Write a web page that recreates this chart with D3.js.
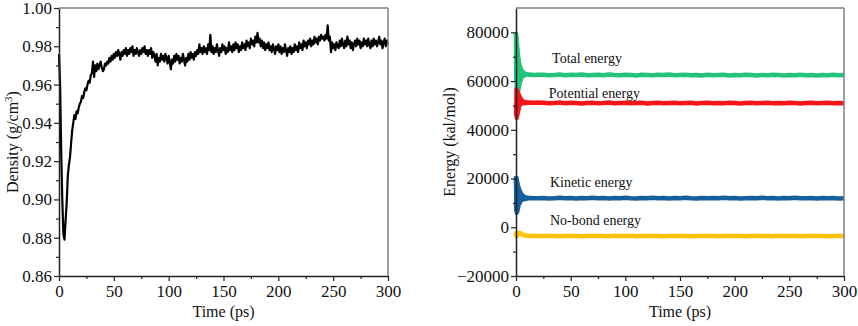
<!DOCTYPE html>
<html lang="en">
<head>
<meta charset="utf-8">
<title>Density and energy vs time</title>
<script src="https://cdn.jsdelivr.net/npm/d3@7"></script>
<style>
  body { margin: 0; background: #fff; }
  svg text { font-family: "Liberation Serif", "Times New Roman", serif; fill: #111; }
</style>
</head>
<body>
<script>
// Density (left panel), 1 ps steps from 0 to 300 ps
var densityValues = [
  0.976, 0.960, 0.925, 0.900, 0.882, 0.879, 0.889, 0.898, 0.912, 0.918,
  0.922, 0.929, 0.936, 0.940, 0.944, 0.942, 0.946, 0.945, 0.948, 0.950,
  0.951, 0.954, 0.953, 0.956, 0.958, 0.957, 0.960, 0.962, 0.961, 0.965,
  0.966, 0.972, 0.964, 0.970, 0.967, 0.971, 0.968, 0.970, 0.972, 0.969,
  0.967, 0.968, 0.971, 0.970, 0.972, 0.971, 0.974, 0.972, 0.975, 0.973,
  0.976, 0.974, 0.977, 0.975, 0.978, 0.976, 0.973, 0.977, 0.975, 0.978,
  0.976, 0.979, 0.975, 0.978, 0.976, 0.979, 0.977, 0.980, 0.975, 0.978,
  0.976, 0.979, 0.977, 0.975, 0.978, 0.976, 0.979, 0.977, 0.980, 0.976,
  0.978, 0.975, 0.978, 0.976, 0.979, 0.974, 0.977, 0.975, 0.972, 0.976,
  0.970, 0.974, 0.972, 0.976, 0.973, 0.975, 0.972, 0.976, 0.974, 0.971,
  0.975, 0.972, 0.968, 0.973, 0.971, 0.975, 0.972, 0.976, 0.973, 0.975,
  0.971, 0.974, 0.972, 0.976, 0.973, 0.970, 0.974, 0.972, 0.976, 0.973,
  0.977, 0.974, 0.976, 0.973, 0.977, 0.975, 0.978, 0.976, 0.981, 0.977,
  0.979, 0.976, 0.980, 0.977, 0.979, 0.976, 0.981, 0.978, 0.986, 0.977,
  0.980, 0.976, 0.979, 0.977, 0.981, 0.978, 0.975, 0.979, 0.977, 0.981,
  0.978, 0.980, 0.976, 0.979, 0.977, 0.982, 0.978, 0.980, 0.977, 0.981,
  0.978, 0.982, 0.979, 0.981, 0.977, 0.980, 0.978, 0.982, 0.979, 0.981,
  0.978, 0.983, 0.980, 0.982, 0.979, 0.984, 0.981, 0.983, 0.980, 0.985,
  0.982, 0.987, 0.982, 0.984, 0.980, 0.983, 0.979, 0.982, 0.978, 0.981,
  0.979, 0.982, 0.978, 0.980, 0.977, 0.981, 0.979, 0.976, 0.980, 0.978,
  0.981, 0.977, 0.980, 0.976, 0.979, 0.977, 0.981, 0.978, 0.975, 0.979,
  0.977, 0.980, 0.976, 0.979, 0.977, 0.981, 0.978, 0.980, 0.977, 0.982,
  0.979, 0.981, 0.978, 0.983, 0.980, 0.982, 0.979, 0.983, 0.981, 0.984,
  0.980, 0.983, 0.981, 0.985, 0.982, 0.984, 0.981, 0.985, 0.983, 0.986,
  0.984, 0.985, 0.983, 0.986, 0.984, 0.991, 0.983, 0.985, 0.977, 0.982,
  0.979, 0.981, 0.978, 0.982, 0.980, 0.979, 0.983, 0.980, 0.984, 0.981,
  0.979, 0.983, 0.980, 0.985, 0.981, 0.983, 0.979, 0.982, 0.978, 0.981,
  0.983, 0.980, 0.984, 0.981, 0.983, 0.979, 0.982, 0.980, 0.984, 0.981,
  0.983, 0.980, 0.984, 0.981, 0.979, 0.983, 0.980, 0.984, 0.981, 0.983,
  0.980, 0.982, 0.985, 0.981, 0.983, 0.979, 0.982, 0.984, 0.980, 0.983,
  0.981
];
var densityTimes = densityValues.map(function(d, i) { return i; });

// Energy (right panel) sample times, ps
var energyTimes = [
  0, 0.25, 0.5, 0.75, 1, 1.25, 1.5, 1.75, 2, 2.25, 2.5, 2.75, 3, 3.25, 3.5, 3.75,
  4, 4.25, 4.5, 4.75, 5, 5.25, 5.5, 5.75, 6, 6.25, 6.5, 6.75, 7, 7.25, 7.5, 7.75,
  8, 8.25, 8.5, 8.75, 9, 9.25, 9.5, 9.75, 10,
  11, 12, 13, 14, 15, 17.5, 20,
  25, 30, 35, 40, 45, 50, 55, 60, 65, 70, 75, 80, 85, 90, 95, 100,
  105, 110, 115, 120, 125, 130, 135, 140, 145, 150, 155, 160, 165, 170, 175, 180,
  185, 190, 195, 200, 205, 210, 215, 220, 225, 230, 235, 240, 245, 250, 255, 260,
  265, 270, 275, 280, 285, 290, 295, 300
];

var totalEnergy = [
  80000, 60000, 78000, 56000, 75000, 55000, 73000, 55500, 70500, 56500, 69000, 57500, 67500, 58500, 66500, 59500,
  65800, 60200, 65000, 60800, 64500, 61300, 64100, 61700, 63800, 62000, 63600, 62200, 63400, 62300, 63200, 62400,
  63100, 62500, 63000, 62500, 62900, 62600, 62900, 62600, 62800,
  62700, 62600, 62700, 62500, 62600, 62500, 62600,
  62600, 62400, 62500, 62700, 62400, 62600, 62500, 62700, 62400, 62500, 62600, 62400, 62700, 62500, 62400, 62600,
  62500, 62300, 62600, 62500, 62400, 62600, 62500, 62700, 62400, 62500, 62600, 62400, 62500, 62300, 62600, 62400,
  62500, 62600, 62300, 62500, 62400, 62600, 62500, 62300, 62500, 62400, 62600, 62500, 62300, 62500, 62400, 62600,
  62400, 62500, 62300, 62500, 62400, 62600, 62400, 62500
];

var potentialEnergy = [
  50000, 46000, 56500, 45000, 56000, 46000, 55500, 47000, 55000, 48000, 54500, 49000, 54000, 49800, 53500, 50200,
  53000, 50500, 52600, 50700, 52300, 50800, 52000, 50900, 51800, 51000, 51700, 51000, 51600, 51000, 51500, 51000,
  51400, 51000, 51400, 51000, 51300, 51000, 51300, 51000, 51200,
  51100, 51200, 51100, 51200, 51100, 51100, 51200,
  51100, 50900, 51000, 51200, 50900, 51100, 51000, 50800, 51000, 51100, 50900, 51000, 51200, 50900, 51000, 51100,
  50900, 51000, 51100, 50800, 51000, 51100, 50900, 51000, 51100, 50900, 51000, 51100, 50800, 51000, 51100, 50900,
  51000, 50900, 51100, 51000, 50800, 51000, 51100, 50900, 51000, 51100, 50900, 51000, 50900, 51100, 51000, 50800,
  51000, 51100, 50900, 51000, 51100, 50900, 51000, 50900
];

var kineticEnergy = [
  21000, 7000, 20000, 6000, 19000, 6500, 18000, 7500, 17000, 8500, 16200, 9200, 15500, 9800, 14900, 10300,
  14400, 10700, 14000, 11000, 13600, 11200, 13300, 11300, 13000, 11400, 12800, 11500, 12600, 11500, 12500, 11600,
  12400, 11600, 12300, 11600, 12200, 11700, 12200, 11700, 12100,
  11900, 12000, 11900, 12000, 11900, 11900, 11950,
  12000, 11800, 11900, 12100, 11900, 12000, 11800, 12000, 11900, 12100, 11900, 12000, 11800, 12000, 11900, 12100,
  11900, 11800, 12000, 11900, 12100, 11900, 12000, 11800, 12000, 11900, 12100, 11900, 11800, 12000, 11900, 12000,
  11900, 12100, 11900, 12000, 11800, 11900, 12000, 11900, 12100, 11900, 12000, 11800, 12000, 11900, 12100, 11900,
  11900, 12000, 11800, 12000, 11900, 12000, 11800, 11900
];

var nonBondEnergy = [
  -4000, -2500, -3800, -2600, -3500, -2700, -3200, -2600, -2900, -2400, -2700, -2300, -2500, -2300, -2400, -2400,
  -2500, -2500, -2600, -2700, -2800, -2800, -2900, -3000, -3000, -3100, -3100, -3200, -3200, -3200, -3300, -3300,
  -3300, -3300, -3400, -3400, -3400, -3400, -3400, -3400, -3500,
  -3500, -3500, -3600, -3500, -3600, -3500, -3600,
  -3600, -3500, -3600, -3700, -3600, -3500, -3600, -3700, -3600, -3500, -3600, -3600, -3700, -3500, -3600, -3600,
  -3500, -3700, -3600, -3600, -3500, -3600, -3700, -3600, -3600, -3500, -3600, -3700, -3600, -3600, -3500, -3600,
  -3700, -3600, -3500, -3600, -3600, -3700, -3600, -3500, -3600, -3600, -3700, -3500, -3600, -3600, -3500, -3700,
  -3600, -3500, -3600, -3600, -3700, -3600, -3500, -3600
];

var seriesNames = ["Total energy", "Potential energy", "Kinetic energy", "No-bond energy"];
var seriesColors = ["#22c47c", "#f8151a", "#155f9e", "#fdc20c"];
var seriesValues = [totalEnergy, potentialEnergy, kineticEnergy, nonBondEnergy];
// where each series label sits (time in ps, energy in kal/mol)
var labelTimes = [33, 30, 31, 31];
var labelEnergies = [67300, 53000, 16500, 900];

var timeTicks = [0, 50, 100, 150, 200, 250, 300];
var timeMinor = [25, 75, 125, 175, 225, 275];
var densityTicks = [0.86, 0.88, 0.90, 0.92, 0.94, 0.96, 0.98, 1.00];
var densityMinor = [0.87, 0.89, 0.91, 0.93, 0.95, 0.97, 0.99];
var energyTicks = [-20000, 0, 20000, 40000, 60000, 80000];
var energyMinor = [-10000, 10000, 30000, 50000, 70000];

var w = 858, h = 326;
var plotTop = 8, plotBottom = 276;
var serif = "'Liberation Serif', 'Times New Roman', serif";

var svg = d3.select("body").append("svg")
  .attr("width", w)
  .attr("height", h);

function drawFrame(x, y, yTicks, yMinor, yFormat) {
  var g = svg.append("g");
  var x0 = x.range()[0], x1 = x.range()[1];

  // minor ticks first
  g.append("g")
    .attr("transform", "translate(0," + plotBottom + ")")
    .call(d3.axisBottom(x).tickValues(timeMinor).tickSize(3).tickFormat(""))
    .call(function(a) { a.select(".domain").remove(); });
  g.append("g")
    .attr("transform", "translate(" + x0 + ",0)")
    .call(d3.axisLeft(y).tickValues(yMinor).tickSize(3).tickFormat(""))
    .call(function(a) { a.select(".domain").remove(); });

  g.append("g")
    .attr("transform", "translate(0," + plotBottom + ")")
    .call(d3.axisBottom(x).tickValues(timeTicks).tickSize(5).tickPadding(4).tickSizeOuter(0));
  g.append("g")
    .attr("transform", "translate(" + x0 + ",0)")
    .call(d3.axisLeft(y).tickValues(yTicks).tickSize(5).tickPadding(2).tickSizeOuter(0).tickFormat(yFormat));

  g.selectAll(".tick line").attr("stroke", "#222").attr("stroke-width", 1.2);
  g.selectAll(".domain").attr("stroke", "#222").attr("stroke-width", 1.5);
  g.selectAll(".tick text")
    .style("font-family", serif)
    .attr("font-size", "17px")
    .attr("fill", "#111");

  // top and right border
  g.append("line")
    .attr("x1", x0).attr("x2", x1).attr("y1", plotTop).attr("y2", plotTop)
    .attr("stroke", "#808080").attr("stroke-width", 1.5);
  g.append("line")
    .attr("x1", x1).attr("x2", x1).attr("y1", plotTop).attr("y2", plotBottom)
    .attr("stroke", "#808080").attr("stroke-width", 1.5);

  svg.append("text")
    .attr("x", (x0 + x1) / 2)
    .attr("y", 317)
    .attr("text-anchor", "middle")
    .attr("font-size", "16px")
    .text("Time (ps)");
}

// ---------- left panel: density ----------
var xL = d3.scaleLinear().domain([0, 300]).range([59, 388]);
var yL = d3.scaleLinear().domain([0.86, 1.00]).range([plotBottom, plotTop]);

var densityLine = d3.line()
  .x(function(d, i) { return xL(densityTimes[i]); })
  .y(function(d) { return yL(d); });

svg.append("path")
  .datum(densityValues)
  .attr("d", densityLine)
  .attr("fill", "none")
  .attr("stroke", "#000")
  .attr("stroke-width", 2.2)
  .attr("stroke-linejoin", "round");

drawFrame(xL, yL, densityTicks, densityMinor, d3.format(".2f"));

var dLabel = svg.append("text")
  .attr("transform", "translate(18,142) rotate(-90)")
  .attr("text-anchor", "middle")
  .attr("font-size", "16px");
dLabel.append("tspan").text("Density (g/cm");
dLabel.append("tspan").attr("baseline-shift", "super").attr("font-size", "11px").text("3");
dLabel.append("tspan").text(")");

// ---------- right panel: energy ----------
var xR = d3.scaleLinear().domain([0, 300]).range([516, 844]);
var yR = d3.scaleLinear().domain([-20000, 90000]).range([plotBottom, plotTop]);

var energyLine = d3.line()
  .x(function(d, i) { return xR(energyTimes[i]); })
  .y(function(d) { return yR(d); });

seriesValues.forEach(function(vals, k) {
  svg.append("path")
    .datum(vals)
    .attr("d", energyLine)
    .attr("fill", "none")
    .attr("stroke", seriesColors[k])
    .attr("stroke-width", 4.5)
    .attr("stroke-linejoin", "round");
});

drawFrame(xR, yR, energyTicks, energyMinor, d3.format("d"));

svg.selectAll("text.series-label")
  .data(seriesNames)
  .enter()
  .append("text")
  .attr("class", "series-label")
  .attr("x", function(d, i) { return xR(labelTimes[i]); })
  .attr("y", function(d, i) { return yR(labelEnergies[i]); })
  .attr("font-size", "14px")
  .text(function(d) { return d; });

svg.append("text")
  .attr("transform", "translate(455,142) rotate(-90)")
  .attr("text-anchor", "middle")
  .attr("font-size", "16px")
  .text("Energy (kal/mol)");
</script>
</body>
</html>
